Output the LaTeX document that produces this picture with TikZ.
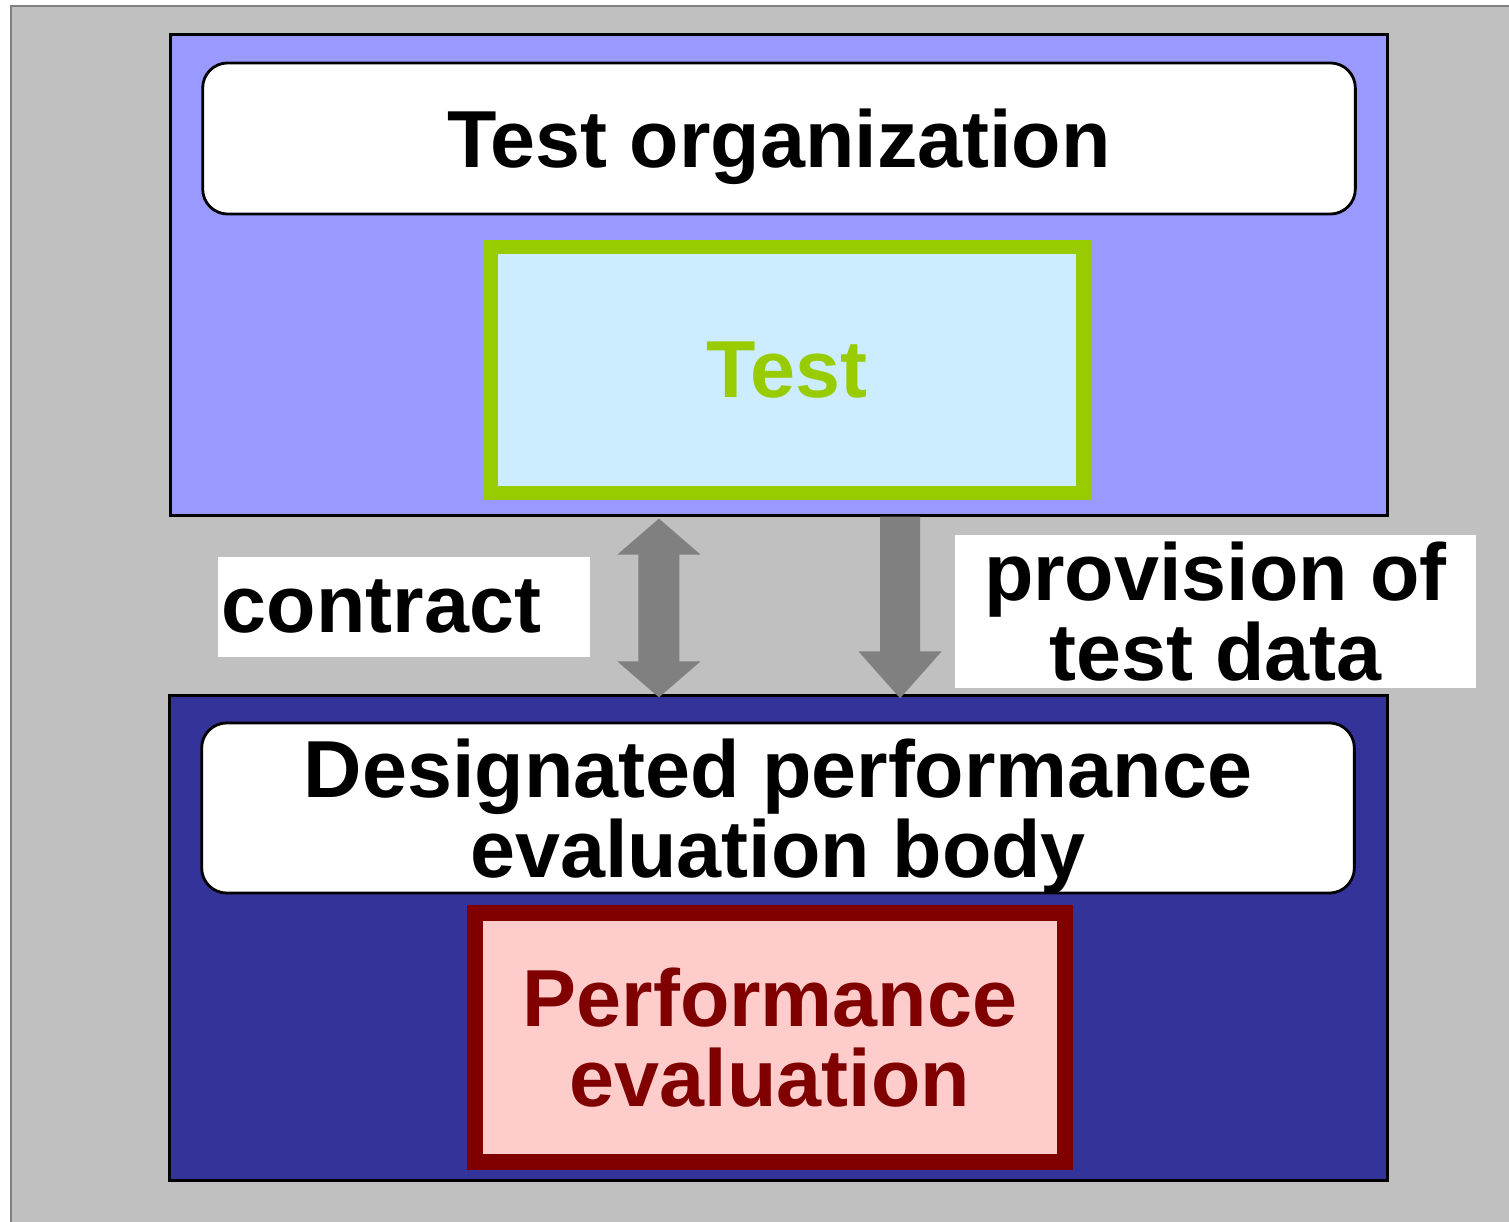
\documentclass[tikz,border=0pt]{standalone}
\usepackage{fontspec}
\setmainfont{Liberation Sans}
\usetikzlibrary{arrows.meta}

\definecolor{bggray}{HTML}{C0C0C0}
\definecolor{orgblue}{HTML}{9999FF}
\definecolor{bodyblue}{HTML}{333399}
\definecolor{testgreen}{HTML}{99CC00}
\definecolor{testfill}{HTML}{CCECFF}
\definecolor{perfred}{HTML}{800000}
\definecolor{perffill}{HTML}{FFCCCC}
\definecolor{arrowgray}{HTML}{808080}

\tikzset{
    bigtext/.style={font=\fontsize{23}{22.8}\selectfont\bfseries},
    panel/.style={draw=black, line width=0.8pt, inner sep=0pt},
    titlebox/.style={panel, fill=white, rounded corners=0.25cm, bigtext, align=center, text depth=0pt},
    innerbox/.style={inner sep=0pt, line width=4.2pt, bigtext, align=center},
    lbl/.style={fill=white, inner ysep=0pt, bigtext},
    blockarrow/.style={draw=arrowgray, line width=0.41cm}
}

\begin{document}
\begin{tikzpicture}[x=0.01cm, y=-0.01cm]
    \useasboundingbox (0,0) rectangle (1509,1222);
    \clip (0,0) rectangle (1509,1222);
    \draw[fill=bggray, draw=arrowgray, line width=0.6pt] (11,6) rectangle (1540,1250);

    \node[panel, fill=orgblue, minimum width=12.16cm, minimum height=4.80cm] (orgpanel) at (779,275) {};
    \node[titlebox, minimum width=11.52cm, minimum height=1.51cm] (orgbox) at (779,138.5) {Test organization};
    \node[innerbox, draw=testgreen, fill=testfill, text=testgreen, minimum width=5.92cm, minimum height=2.46cm] (testbox) at (787,370) {Test};

    \node[panel, fill=bodyblue, minimum width=12.17cm, minimum height=4.84cm] (bodypanel) at (778.5,938) {};
    \node[titlebox, minimum width=11.52cm, minimum height=1.70cm] (bodybox) at (778,808) {Designated performance\\evaluation body};
    \node[innerbox, draw=perfred, fill=perffill, text=perfred, line width=4.6pt, minimum width=5.90cm, minimum height=2.49cm] (perfbox) at (770,1037.5) {Performance\\evaluation};

    \node[lbl, text width=3.64cm, inner xsep=0.04cm, align=left, minimum height=1.00cm] (contractlbl) at (404,607) {contract};
    \node[lbl, minimum width=5.21cm, minimum height=1.53cm, align=center] (provisionlbl) at (1215.5,611.5) {provision of\\test data};

    \draw[blockarrow, {Triangle[width=0.81cm, length=0.36cm]}-{Triangle[width=0.81cm, length=0.36cm]}]
        ([xshift=-1.20cm, yshift=-0.02cm]orgpanel.south) -- ([xshift=-1.195cm, yshift=-0.03cm]bodypanel.north);
    \draw[blockarrow, line width=0.40cm, -{Triangle[width=0.80cm, length=0.47cm]}]
        ([xshift=1.21cm]orgpanel.south) -- ([xshift=1.215cm, yshift=-0.04cm]bodypanel.north);
\end{tikzpicture}
\end{document}
